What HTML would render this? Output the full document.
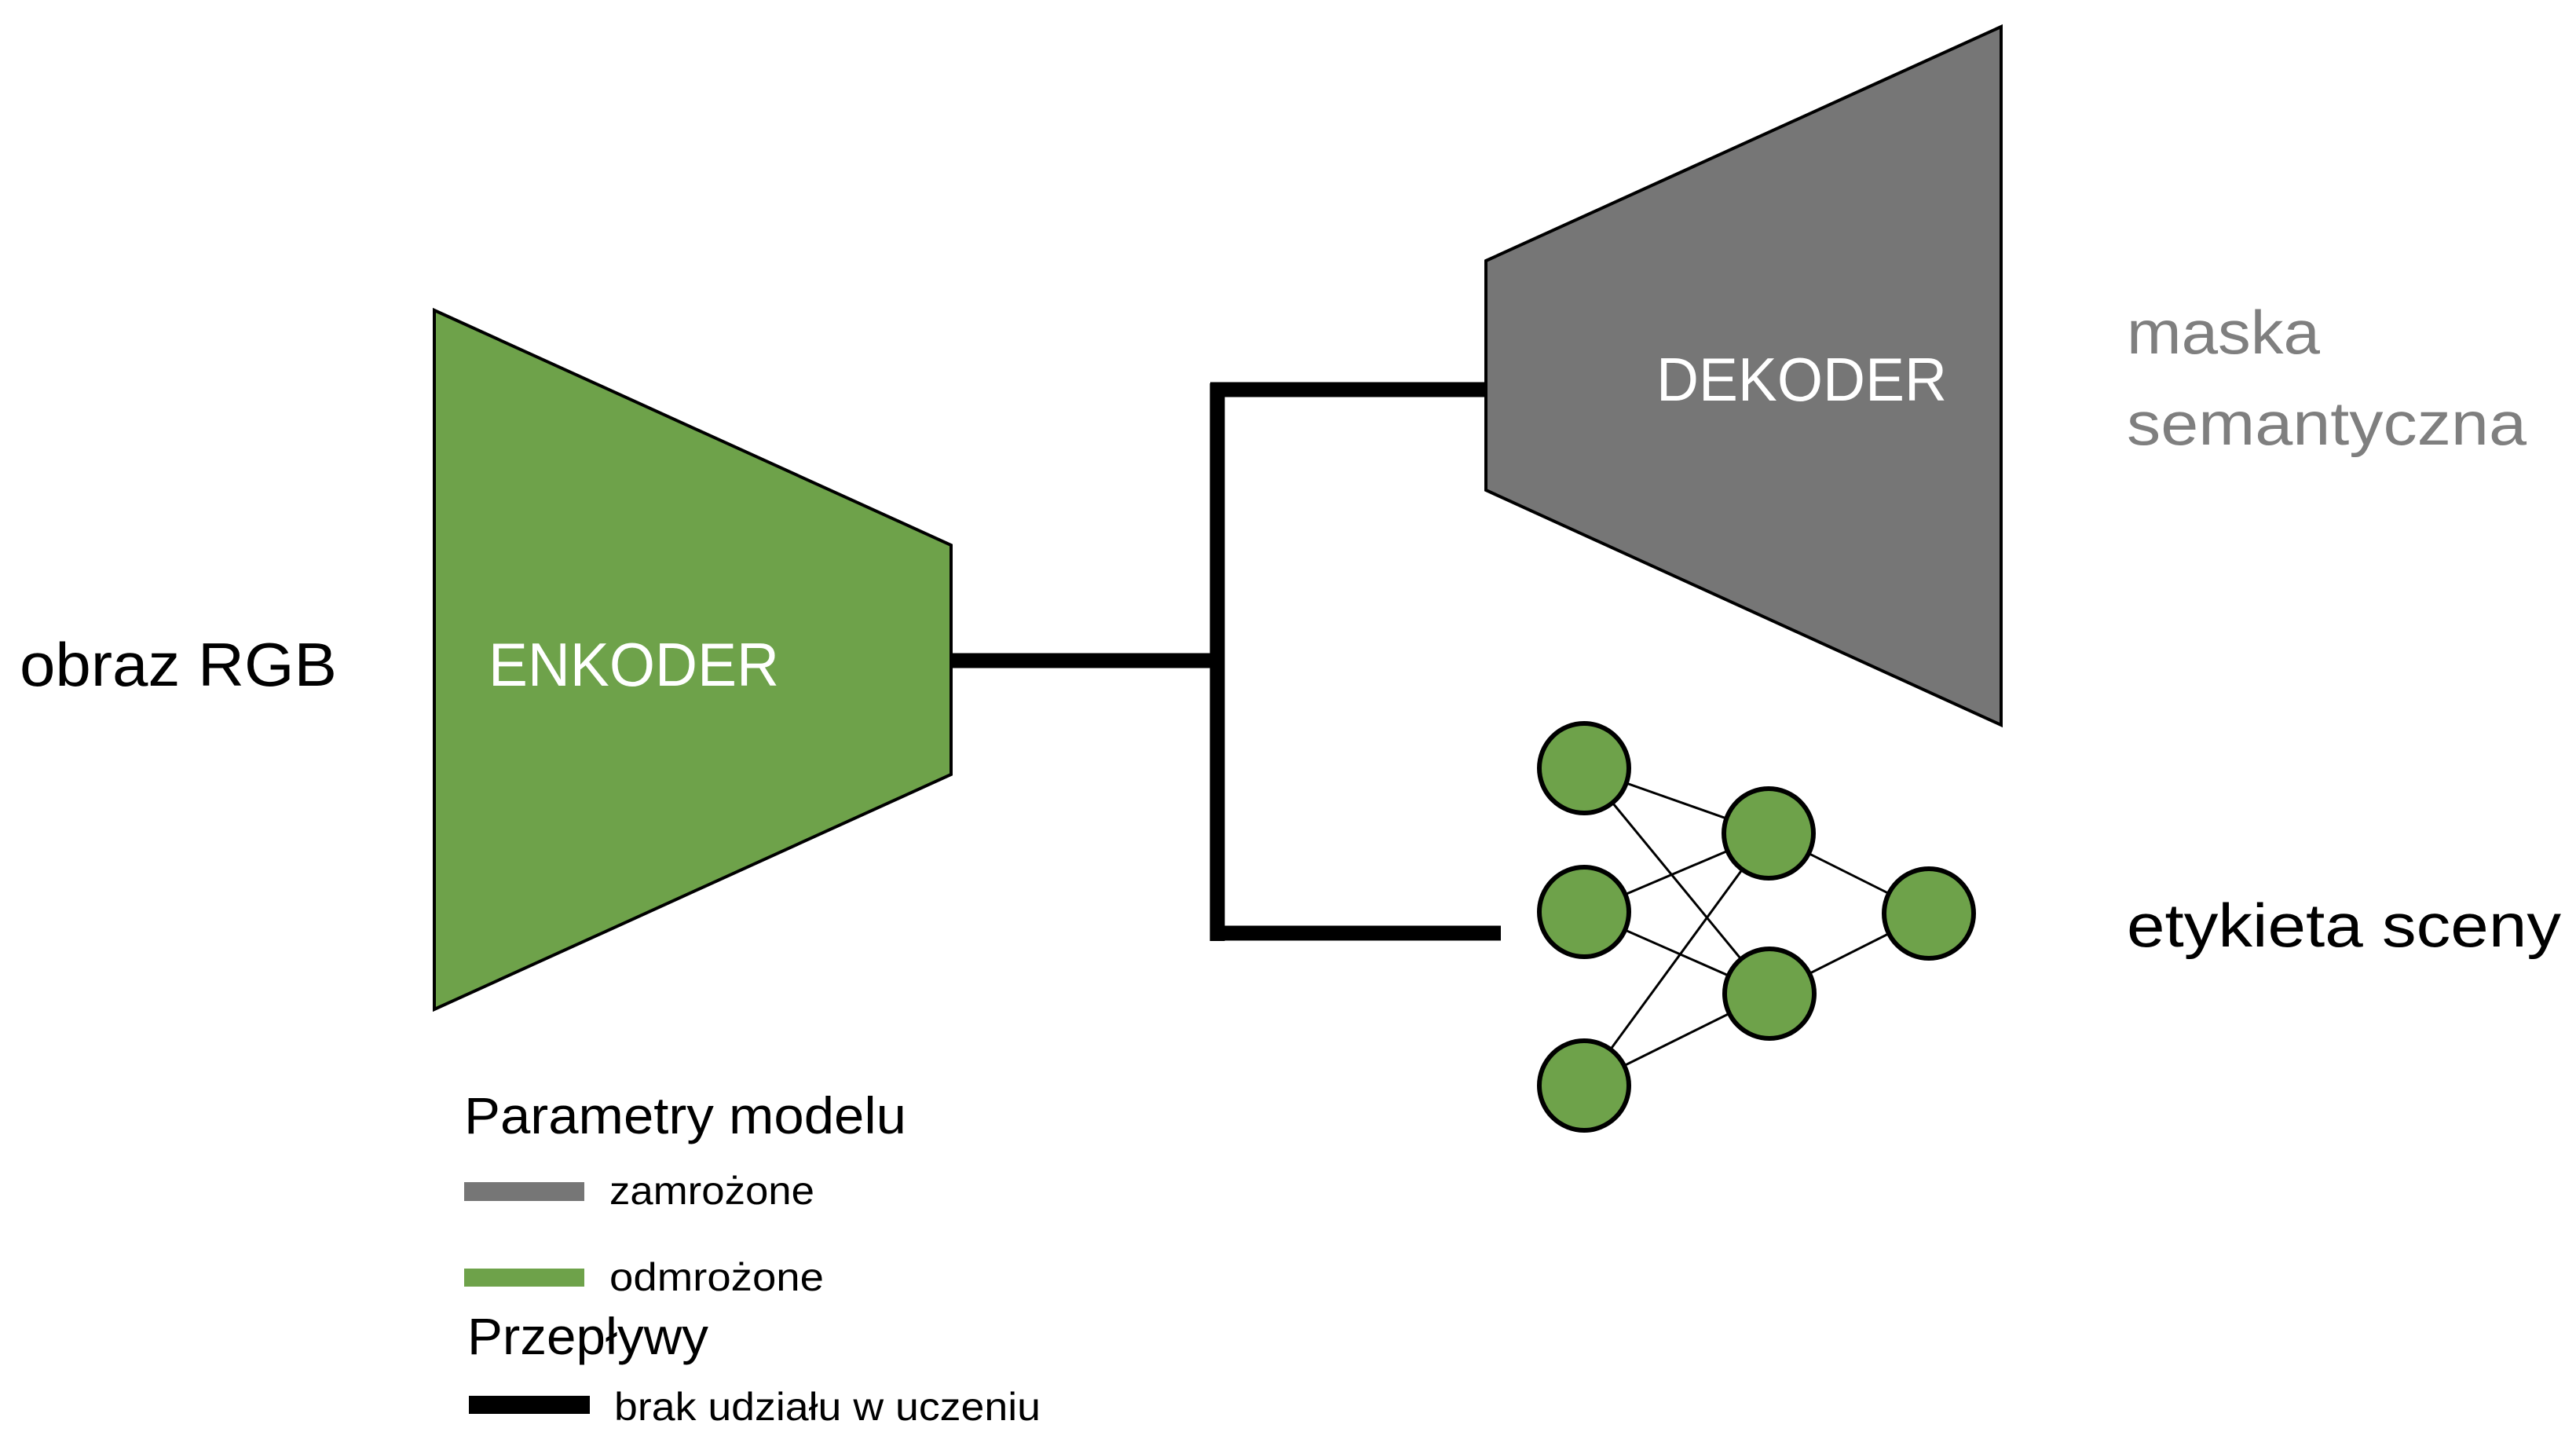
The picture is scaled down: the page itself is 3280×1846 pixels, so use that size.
<!DOCTYPE html>
<html><head><meta charset="utf-8"><style>html,body{margin:0;padding:0;background:#fff}svg{display:block}</style></head>
<body>
<svg width="3280" height="1846" viewBox="0 0 3280 1846" xmlns="http://www.w3.org/2000/svg" font-family="Liberation Sans, sans-serif">
<rect width="3280" height="1846" fill="#fff"/>
<polygon points="553,395 1211,694 1211,986 553,1285" fill="#6ea24a" stroke="#000" stroke-width="4"/>
<polygon points="1892,332 2548,34 2548,923 1892,624" fill="#767676" stroke="#000" stroke-width="4"/>
<g stroke="#000" stroke-width="19" fill="none">
<line x1="1211" y1="841" x2="1555" y2="841"/>
<line x1="1550" y1="488" x2="1550" y2="1198"/>
<line x1="1541" y1="496" x2="1892" y2="496"/>
<line x1="1541" y1="1188" x2="1911" y2="1188"/>
</g>
<g stroke="#000" stroke-width="3">
<line x1="2017" y1="978" x2="2252" y2="1061"/>
<line x1="2017" y1="978" x2="2253" y2="1265"/>
<line x1="2017" y1="1161" x2="2252" y2="1061"/>
<line x1="2017" y1="1161" x2="2253" y2="1265"/>
<line x1="2017" y1="1382" x2="2252" y2="1061"/>
<line x1="2017" y1="1382" x2="2253" y2="1265"/>
<line x1="2252" y1="1061" x2="2456" y2="1163"/>
<line x1="2253" y1="1265" x2="2456" y2="1163"/>
</g>
<g fill="#6ea24a" stroke="#000" stroke-width="6">
<circle cx="2017" cy="978" r="57"/>
<circle cx="2017" cy="1161" r="57"/>
<circle cx="2017" cy="1382" r="57"/>
<circle cx="2252" cy="1061" r="57"/>
<circle cx="2253" cy="1265" r="57"/>
<circle cx="2456" cy="1163" r="57"/>
</g>
<text x="25" y="873" font-size="78" textLength="404" lengthAdjust="spacingAndGlyphs">obraz RGB</text>
<text x="622" y="873" font-size="78" fill="#fff" textLength="370" lengthAdjust="spacingAndGlyphs">ENKODER</text>
<text x="2109" y="510" font-size="78" fill="#fff" textLength="370" lengthAdjust="spacingAndGlyphs">DEKODER</text>
<text x="2708" y="450" font-size="78" fill="#7f7f7f" textLength="246" lengthAdjust="spacingAndGlyphs">maska</text>
<text x="2708" y="566" font-size="78" fill="#7f7f7f" textLength="509" lengthAdjust="spacingAndGlyphs">semantyczna</text>
<text x="2708" y="1205" font-size="78" textLength="553" lengthAdjust="spacingAndGlyphs">etykieta sceny</text>
<text x="591" y="1443" font-size="66" textLength="563" lengthAdjust="spacingAndGlyphs">Parametry modelu</text>
<rect x="591" y="1505" width="153" height="24" fill="#767676"/>
<text x="776" y="1533" font-size="50" textLength="261" lengthAdjust="spacingAndGlyphs">zamrożone</text>
<rect x="591" y="1615" width="153" height="23" fill="#6ea24a"/>
<text x="776" y="1643" font-size="50" textLength="273" lengthAdjust="spacingAndGlyphs">odmrożone</text>
<text x="595" y="1724" font-size="66" textLength="307" lengthAdjust="spacingAndGlyphs">Przepływy</text>
<rect x="597" y="1777" width="154" height="23" fill="#000"/>
<text x="782" y="1808" font-size="50" textLength="543" lengthAdjust="spacingAndGlyphs">brak udziału w uczeniu</text>
</svg>
</body></html>
